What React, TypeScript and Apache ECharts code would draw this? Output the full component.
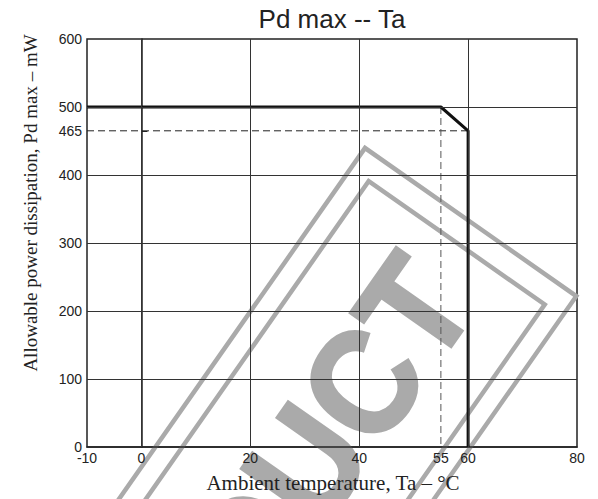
import React, { useEffect, useRef } from "react";
import * as echarts from "echarts";

const curveX = [-10, 55, 60, 60];
const curveY = [500, 500, 465, 0];
const guideHX = [-10, 60];
const guideHY = [465, 465];
const guideVX = [55, 55];
const guideVY = [500, 0];
const gridX = [0, 20, 40, 60];
const gridY = [100, 200, 300, 400, 500];
const xTickLabels = [-10, 0, 20, 40, 55, 60, 80];
const yTickLabels = [0, 100, 200, 300, 400, 465, 500, 600];
const yExtraTicks = [465];

const SANS = '"Liberation Sans", Arial, Helvetica, sans-serif';
const SERIF = '"Liberation Serif", "Times New Roman", serif';

export default function App() {
  const ref = useRef<HTMLDivElement>(null);
  useEffect(() => {
    document.body.style.margin = "0";
    if (!ref.current) return;
    const chart = echarts.init(ref.current, undefined, { renderer: "svg" });
    const pairs = (xs: number[], ys: number[]) => xs.map((x, i) => [x, ys[i]]);
    const gray = "#aaaaaa";
    const L = 900;
    chart.setOption({
      animation: false,
      backgroundColor: "#ffffff",
      grid: {
        left: 87,
        right: 21,
        top: 39,
        bottom: 52,
        show: true,
        borderColor: "#222",
        borderWidth: 1.5,
        backgroundColor: "transparent",
      },
      xAxis: {
        type: "value",
        min: -10,
        max: 80,
        interval: 10,
        axisLine: { show: true, lineStyle: { color: "#222", width: 1.5 } },
        axisTick: { show: false },
        splitLine: { show: false },
        axisLabel: {
          customValues: xTickLabels,
          color: "#222",
          fontFamily: SANS,
          fontSize: 14,
          margin: 4,
        },
      },
      yAxis: {
        type: "value",
        min: 0,
        max: 600,
        interval: 100,
        axisLine: { show: true, lineStyle: { color: "#222", width: 1.5 } },
        axisTick: {
          show: true,
          inside: true,
          length: 6,
          customValues: yExtraTicks,
          lineStyle: { color: "#222", width: 1 },
        },
        splitLine: { show: false },
        axisLabel: {
          customValues: yTickLabels,
          color: "#222",
          fontFamily: SANS,
          fontSize: 14,
          margin: 5,
        },
      },
      graphic: [
        {
          type: "group",
          x: 365,
          y: 148,
          rotation: (55 * Math.PI) / 180,
          z: 0,
          silent: true,
          children: [
            {
              type: "rect",
              shape: { x: -L, y: 0, width: L, height: 258 },
              style: { fill: "none", stroke: gray, lineWidth: 4.5 },
            },
            {
              type: "rect",
              shape: { x: -L, y: 22, width: L - 25, height: 215 },
              style: { fill: "none", stroke: gray, lineWidth: 4.5 },
            },
            {
              type: "text",
              x: -62,
              y: 133,
              scaleX: 0.92,
              style: {
                text: "PRODUCT",
                fill: gray,
                stroke: gray,
                lineWidth: 3,
                font: `bold 148px ${SANS}`,
                textAlign: "right",
                textVerticalAlign: "middle",
              },
            },
          ],
        },
        {
          type: "text",
          x: 332,
          y: 19,
          style: {
            text: "Pd max -- Ta",
            fill: "#222",
            font: `26px ${SANS}`,
            textAlign: "center",
            textVerticalAlign: "middle",
          },
        },
        {
          type: "text",
          x: 333,
          y: 483,
          style: {
            text: "Ambient temperature, Ta – °C",
            fill: "#222",
            font: `21px ${SERIF}`,
            textAlign: "center",
            textVerticalAlign: "middle",
          },
        },
        {
          type: "text",
          x: 30,
          y: 203,
          rotation: Math.PI / 2,
          style: {
            text: "Allowable power dissipation, Pd max – mW",
            fill: "#222",
            font: `19px ${SERIF}`,
            textAlign: "center",
            textVerticalAlign: "middle",
          },
        },
      ],
      series: [
        {
          type: "line",
          data: [],
          z: 2,
          silent: true,
          markLine: {
            silent: true,
            symbol: ["none", "none"],
            label: { show: false },
            lineStyle: { color: "#333", width: 1, type: "solid" },
            data: [
              ...gridX.map((v) => ({ xAxis: v })),
              ...gridY.map((v) => ({ yAxis: v })),
            ],
          },
        },
        {
          type: "line",
          data: pairs(guideHX, guideHY),
          showSymbol: false,
          symbol: "none",
          z: 3,
          lineStyle: { color: "#222", width: 1, type: [7, 4] },
        },
        {
          type: "line",
          data: pairs(guideVX, guideVY),
          showSymbol: false,
          symbol: "none",
          z: 3,
          lineStyle: { color: "#555", width: 1, type: [7, 4] },
        },
        {
          type: "line",
          data: pairs(curveX, curveY),
          showSymbol: false,
          symbol: "none",
          z: 4,
          lineStyle: { color: "#111", width: 3 },
        },
      ],
    });
    return () => chart.dispose();
  }, []);
  return <div ref={ref} style={{ width: 598, height: 499 }} />;
}
